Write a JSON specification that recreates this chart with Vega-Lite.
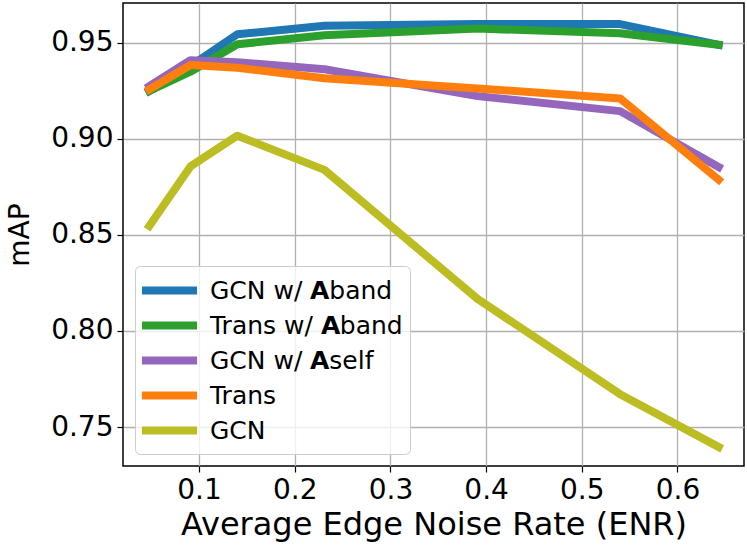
{
  "$schema": "https://vega.github.io/schema/vega-lite/v6.json",
  "width": 621,
  "height": 463,
  "autosize": {"type": "none"},
  "padding": {"left": 123, "top": 3, "right": 3, "bottom": 85},
  "background": "white",
  "data": {
    "values": [
      {"series": "GCN w/ 𝗔band", "enr": 0.048, "map": 0.925},
      {"series": "GCN w/ 𝗔band", "enr": 0.091, "map": 0.938},
      {"series": "GCN w/ 𝗔band", "enr": 0.140, "map": 0.9545},
      {"series": "GCN w/ 𝗔band", "enr": 0.231, "map": 0.959},
      {"series": "GCN w/ 𝗔band", "enr": 0.391, "map": 0.9598},
      {"series": "GCN w/ 𝗔band", "enr": 0.540, "map": 0.9598},
      {"series": "GCN w/ 𝗔band", "enr": 0.643, "map": 0.949},
      {"series": "Trans w/ 𝗔band", "enr": 0.048, "map": 0.925},
      {"series": "Trans w/ 𝗔band", "enr": 0.091, "map": 0.935},
      {"series": "Trans w/ 𝗔band", "enr": 0.140, "map": 0.9493},
      {"series": "Trans w/ 𝗔band", "enr": 0.231, "map": 0.954},
      {"series": "Trans w/ 𝗔band", "enr": 0.391, "map": 0.9575},
      {"series": "Trans w/ 𝗔band", "enr": 0.540, "map": 0.955},
      {"series": "Trans w/ 𝗔band", "enr": 0.643, "map": 0.949},
      {"series": "GCN w/ 𝗔self", "enr": 0.048, "map": 0.9275},
      {"series": "GCN w/ 𝗔self", "enr": 0.091, "map": 0.941},
      {"series": "GCN w/ 𝗔self", "enr": 0.140, "map": 0.940},
      {"series": "GCN w/ 𝗔self", "enr": 0.231, "map": 0.9363},
      {"series": "GCN w/ 𝗔self", "enr": 0.391, "map": 0.9223},
      {"series": "GCN w/ 𝗔self", "enr": 0.540, "map": 0.9145},
      {"series": "GCN w/ 𝗔self", "enr": 0.643, "map": 0.8854},
      {"series": "Trans", "enr": 0.048, "map": 0.9258},
      {"series": "Trans", "enr": 0.091, "map": 0.9385},
      {"series": "Trans", "enr": 0.140, "map": 0.9371},
      {"series": "Trans", "enr": 0.231, "map": 0.9316},
      {"series": "Trans", "enr": 0.391, "map": 0.9263},
      {"series": "Trans", "enr": 0.540, "map": 0.9211},
      {"series": "Trans", "enr": 0.643, "map": 0.8788},
      {"series": "GCN", "enr": 0.048, "map": 0.8547},
      {"series": "GCN", "enr": 0.091, "map": 0.8857},
      {"series": "GCN", "enr": 0.140, "map": 0.9017},
      {"series": "GCN", "enr": 0.231, "map": 0.8839},
      {"series": "GCN", "enr": 0.391, "map": 0.8167},
      {"series": "GCN", "enr": 0.540, "map": 0.7671},
      {"series": "GCN", "enr": 0.643, "map": 0.7396}
    ]
  },
  "mark": {"type": "line", "strokeWidth": 8, "strokeCap": "square", "strokeJoin": "round", "clip": true},
  "encoding": {
    "x": {
      "field": "enr",
      "type": "quantitative",
      "title": "Average Edge Noise Rate (ENR)",
      "scale": {"domain": [0.0205, 0.6695], "nice": false, "zero": false},
      "axis": {"values": [0.1, 0.2, 0.3, 0.4, 0.5, 0.6], "format": ".1f", "titlePadding": 5, "titleFontSize": 32}
    },
    "y": {
      "field": "map",
      "type": "quantitative",
      "title": "mAP",
      "scale": {"domain": [0.7297, 0.9708], "nice": false, "zero": false},
      "axis": {"values": [0.75, 0.8, 0.85, 0.9, 0.95], "format": ".2f", "titlePadding": 16, "titleFontSize": 28}
    },
    "color": {
      "field": "series",
      "type": "nominal",
      "title": null,
      "sort": ["GCN w/ 𝗔band", "Trans w/ 𝗔band", "GCN w/ 𝗔self", "Trans", "GCN"],
      "scale": {
        "domain": ["GCN w/ 𝗔band", "Trans w/ 𝗔band", "GCN w/ 𝗔self", "Trans", "GCN"],
        "range": ["#1f77b4", "#2ca02c", "#9467bd", "#ff7f0e", "#bcbd22"]
      },
      "legend": {
        "orient": "bottom-left",
        "offset": 12,
        "symbolType": "M-2.04,0H2.04",
        "symbolSize": 729,
        "symbolStrokeWidth": 8,
        "symbolOffset": 10,
        "labelFontSize": 25,
        "labelOffset": 23,
        "rowPadding": 1,
        "padding": 7,
        "fillColor": "rgba(255,255,255,0.8)",
        "strokeColor": "#cccccc",
        "cornerRadius": 5
      }
    }
  },
  "config": {
    "font": "DejaVu Sans",
    "view": {"stroke": "#000000", "strokeWidth": 1.5},
    "axis": {
      "labelFont": "DejaVu Sans",
      "titleFont": "DejaVu Sans",
      "labelFontSize": 28,
      "titleFontWeight": "normal",
      "labelColor": "#000000",
      "titleColor": "#000000",
      "grid": true,
      "gridColor": "#b0b0b0",
      "gridWidth": 1.3,
      "domain": false,
      "tickColor": "#000000",
      "tickSize": 6,
      "tickWidth": 1.2,
      "labelPadding": 4
    },
    "legend": {"labelFont": "DejaVu Sans", "labelColor": "#000000", "labelLimit": 400}
  }
}
